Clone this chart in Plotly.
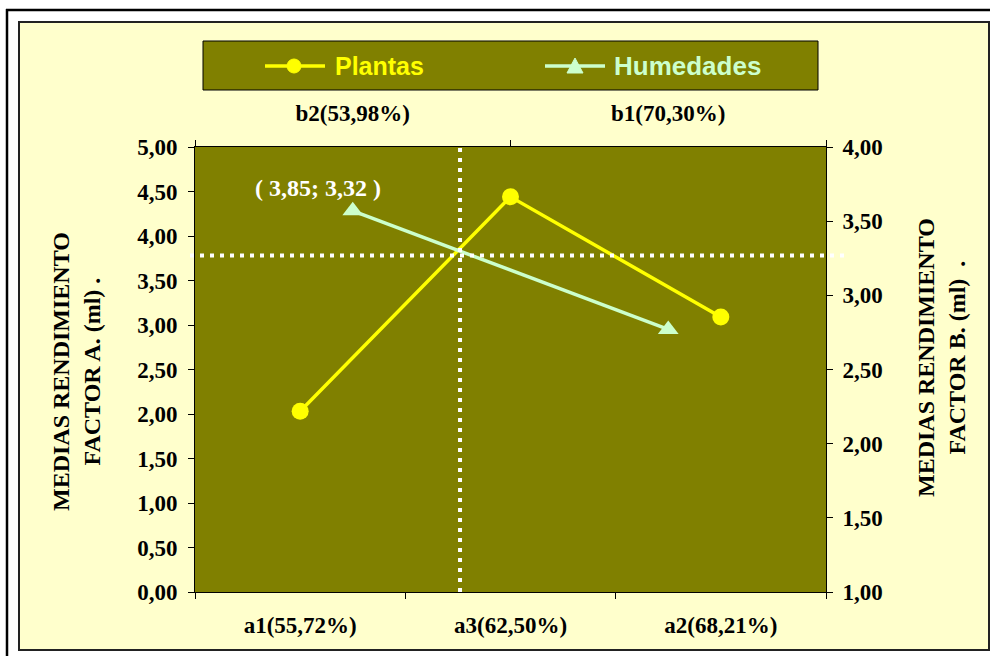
import plotly.graph_objects as go

# ---- data ----
factor_a_labels = ["a1(55,72%)", "a3(62,50%)", "a2(68,21%)"]
plantas_values = [2.03, 4.44, 3.09]
factor_b_labels = ["b2(53,98%)", "b1(70,30%)"]
humedades_values = [3.57, 2.77]
left_ticks = [0, 0.5, 1, 1.5, 2, 2.5, 3, 3.5, 4, 4.5, 5]
right_ticks = [1, 1.5, 2, 2.5, 3, 3.5, 4]
cross_x_index = 0.76   # position of crossing on factor A axis (category index)
cross_y_value = 3.78   # crossing level on left axis
cross_label = "( 3,85; 3,32 )"

# ---- layout geometry (pixels) ----
FW, FH = 990, 656
L, R, T, B = 195, 826, 147, 592
PW, PH = R - L, B - T

def px(x):
    return (x - L) / PW

def py(y):
    return (B - y) / PH

OLIVE = "#808000"
CREAM = "#FFFFCC"
YEL = "#FFFF00"
MINT = "#CCFFCC"
SERIF = "Liberation Serif, Times New Roman, serif"
SANS = "Liberation Sans, Arial, sans-serif"

fig = go.Figure()
fig.add_trace(go.Scatter(
    x=factor_a_labels, y=plantas_values, name="Plantas", mode="lines+markers",
    line=dict(color=YEL, width=3.5), marker=dict(symbol="circle", size=17, color=YEL),
    xaxis="x", yaxis="y", showlegend=False))
fig.add_trace(go.Scatter(
    x=factor_b_labels, y=humedades_values, name="Humedades", mode="lines+markers",
    line=dict(color=MINT, width=3.5), marker=dict(symbol="triangle-up", size=18, color=MINT),
    xaxis="x2", yaxis="y2", showlegend=False))

tickfont = dict(family=SERIF, size=23, color="black", weight="bold")
common = dict(showgrid=False, zeroline=False, showline=True, linecolor="black", linewidth=1,
              ticks="outside", ticklen=6, tickcolor="black", tickwidth=1, tickfont=tickfont)

fig.update_layout(
    width=FW, height=FH,
    margin=dict(l=L, r=FW - R, t=T, b=FH - B, pad=0),
    paper_bgcolor=CREAM, plot_bgcolor=OLIVE,
    separators=",.",
    showlegend=False,
    xaxis=dict(type="category", categoryorder="array", categoryarray=factor_a_labels,
               range=[-0.5, 2.5], tickson="boundaries", ticklabelstandoff=12, **common),
    xaxis2=dict(type="category", categoryorder="array", categoryarray=factor_b_labels,
                range=[-0.5, 1.5], overlaying="x", side="top", tickson="boundaries",
                ticklabelstandoff=16, **common),
    yaxis=dict(range=[0, 5], tickvals=left_ticks, tickformat=".2f", ticklabelstandoff=6, **common),
    yaxis2=dict(range=[1, 4], tickvals=right_ticks, tickformat=".2f", overlaying="y", side="right",
                ticklabelstandoff=5, **common),
)

shapes = []
# frame: white margins, outer black line, inner border
white = dict(type="rect", xref="paper", yref="paper", fillcolor="white", line=dict(width=0), layer="above")
shapes.append(dict(white, x0=px(-5), x1=px(19), y0=py(-5), y1=py(FH + 5)))
shapes.append(dict(white, x0=px(-5), x1=px(FW + 5), y0=py(-5), y1=py(22)))
shapes.append(dict(white, x0=px(989), x1=px(FW + 5), y0=py(-5), y1=py(FH + 5)))
shapes.append(dict(white, x0=px(-5), x1=px(FW + 5), y0=py(650), y1=py(FH + 5)))
shapes.append(dict(type="line", xref="paper", yref="paper", x0=px(7), x1=px(7), y0=py(9), y1=py(FH + 5),
                   line=dict(color="black", width=2.5), layer="above"))
shapes.append(dict(type="line", xref="paper", yref="paper", x0=px(6), x1=px(FW + 5), y0=py(10), y1=py(10),
                   line=dict(color="black", width=2.5), layer="above"))
shapes.append(dict(type="rect", xref="paper", yref="paper", x0=px(19), x1=px(989), y0=py(22), y1=py(650),
                   line=dict(color="#222222", width=2), layer="above"))

# legend box
shapes.append(dict(type="rect", xref="paper", yref="paper", x0=px(203), x1=px(818), y0=py(41), y1=py(90),
                   fillcolor=OLIVE, line=dict(color="black", width=1), layer="above"))
LY = 66
shapes.append(dict(type="line", xref="paper", yref="paper", x0=px(265), x1=px(325), y0=py(LY), y1=py(LY),
                   line=dict(color=YEL, width=3.5), layer="above"))
shapes.append(dict(type="circle", xref="paper", yref="paper", x0=px(287), x1=px(301), y0=py(LY - 7), y1=py(LY + 7),
                   fillcolor=YEL, line=dict(color=YEL, width=1), layer="above"))
shapes.append(dict(type="line", xref="paper", yref="paper", x0=px(545), x1=px(605), y0=py(LY), y1=py(LY),
                   line=dict(color=MINT, width=3.5), layer="above"))
tri = "M {:.5f} {:.5f} L {:.5f} {:.5f} L {:.5f} {:.5f} Z".format(
    px(575), py(LY - 8), px(567), py(LY + 7), px(583), py(LY + 7))
shapes.append(dict(type="path", xref="paper", yref="paper", path=tri,
                   fillcolor=MINT, line=dict(color=MINT, width=1), layer="above"))

# crosshair dotted lines
dot = dict(color="white", width=4, dash="4px,6px")
shapes.append(dict(type="line", xref="x", yref="paper", x0=cross_x_index, x1=cross_x_index,
                   y0=py(B), y1=py(143), line=dot, layer="above"))
shapes.append(dict(type="line", xref="paper", yref="y", x0=px(190), x1=px(846),
                   y0=cross_y_value, y1=cross_y_value, line=dot, layer="above"))
fig.update_layout(shapes=shapes)

ann = []
ann.append(dict(xref="paper", yref="paper", x=px(333), y=py(LY), xanchor="left", yanchor="middle",
                text="Plantas", showarrow=False,
                font=dict(family=SANS, size=25, color=YEL, weight="bold")))
ann.append(dict(xref="paper", yref="paper", x=px(612), y=py(LY), xanchor="left", yanchor="middle",
                text="Humedades", showarrow=False,
                font=dict(family=SANS, size=26, color=MINT, weight="bold")))
ann.append(dict(xref="paper", yref="paper", x=px(318), y=py(188), xanchor="center", yanchor="middle",
                text=cross_label, showarrow=False,
                font=dict(family=SERIF, size=24, color="white", weight="bold")))
ann.append(dict(xref="paper", yref="paper", x=px(76), y=py(372), xanchor="center", yanchor="middle",
                text="MEDIAS RENDIMIENTO<br>FACTOR A. (ml) .", textangle=-90, showarrow=False,
                font=dict(family=SERIF, size=24, color="black", weight="bold")))
ann.append(dict(xref="paper", yref="paper", x=px(941), y=py(358), xanchor="center", yanchor="middle",
                text="MEDIAS RENDIMIENTO<br>FACTOR B. (ml)  .", textangle=-90, showarrow=False,
                font=dict(family=SERIF, size=24, color="black", weight="bold")))
fig.update_layout(annotations=ann)

fig.write_html("out.html", config={"displayModeBar": False},
               post_script="document.body.style.margin='0';document.body.style.overflow='hidden';")
